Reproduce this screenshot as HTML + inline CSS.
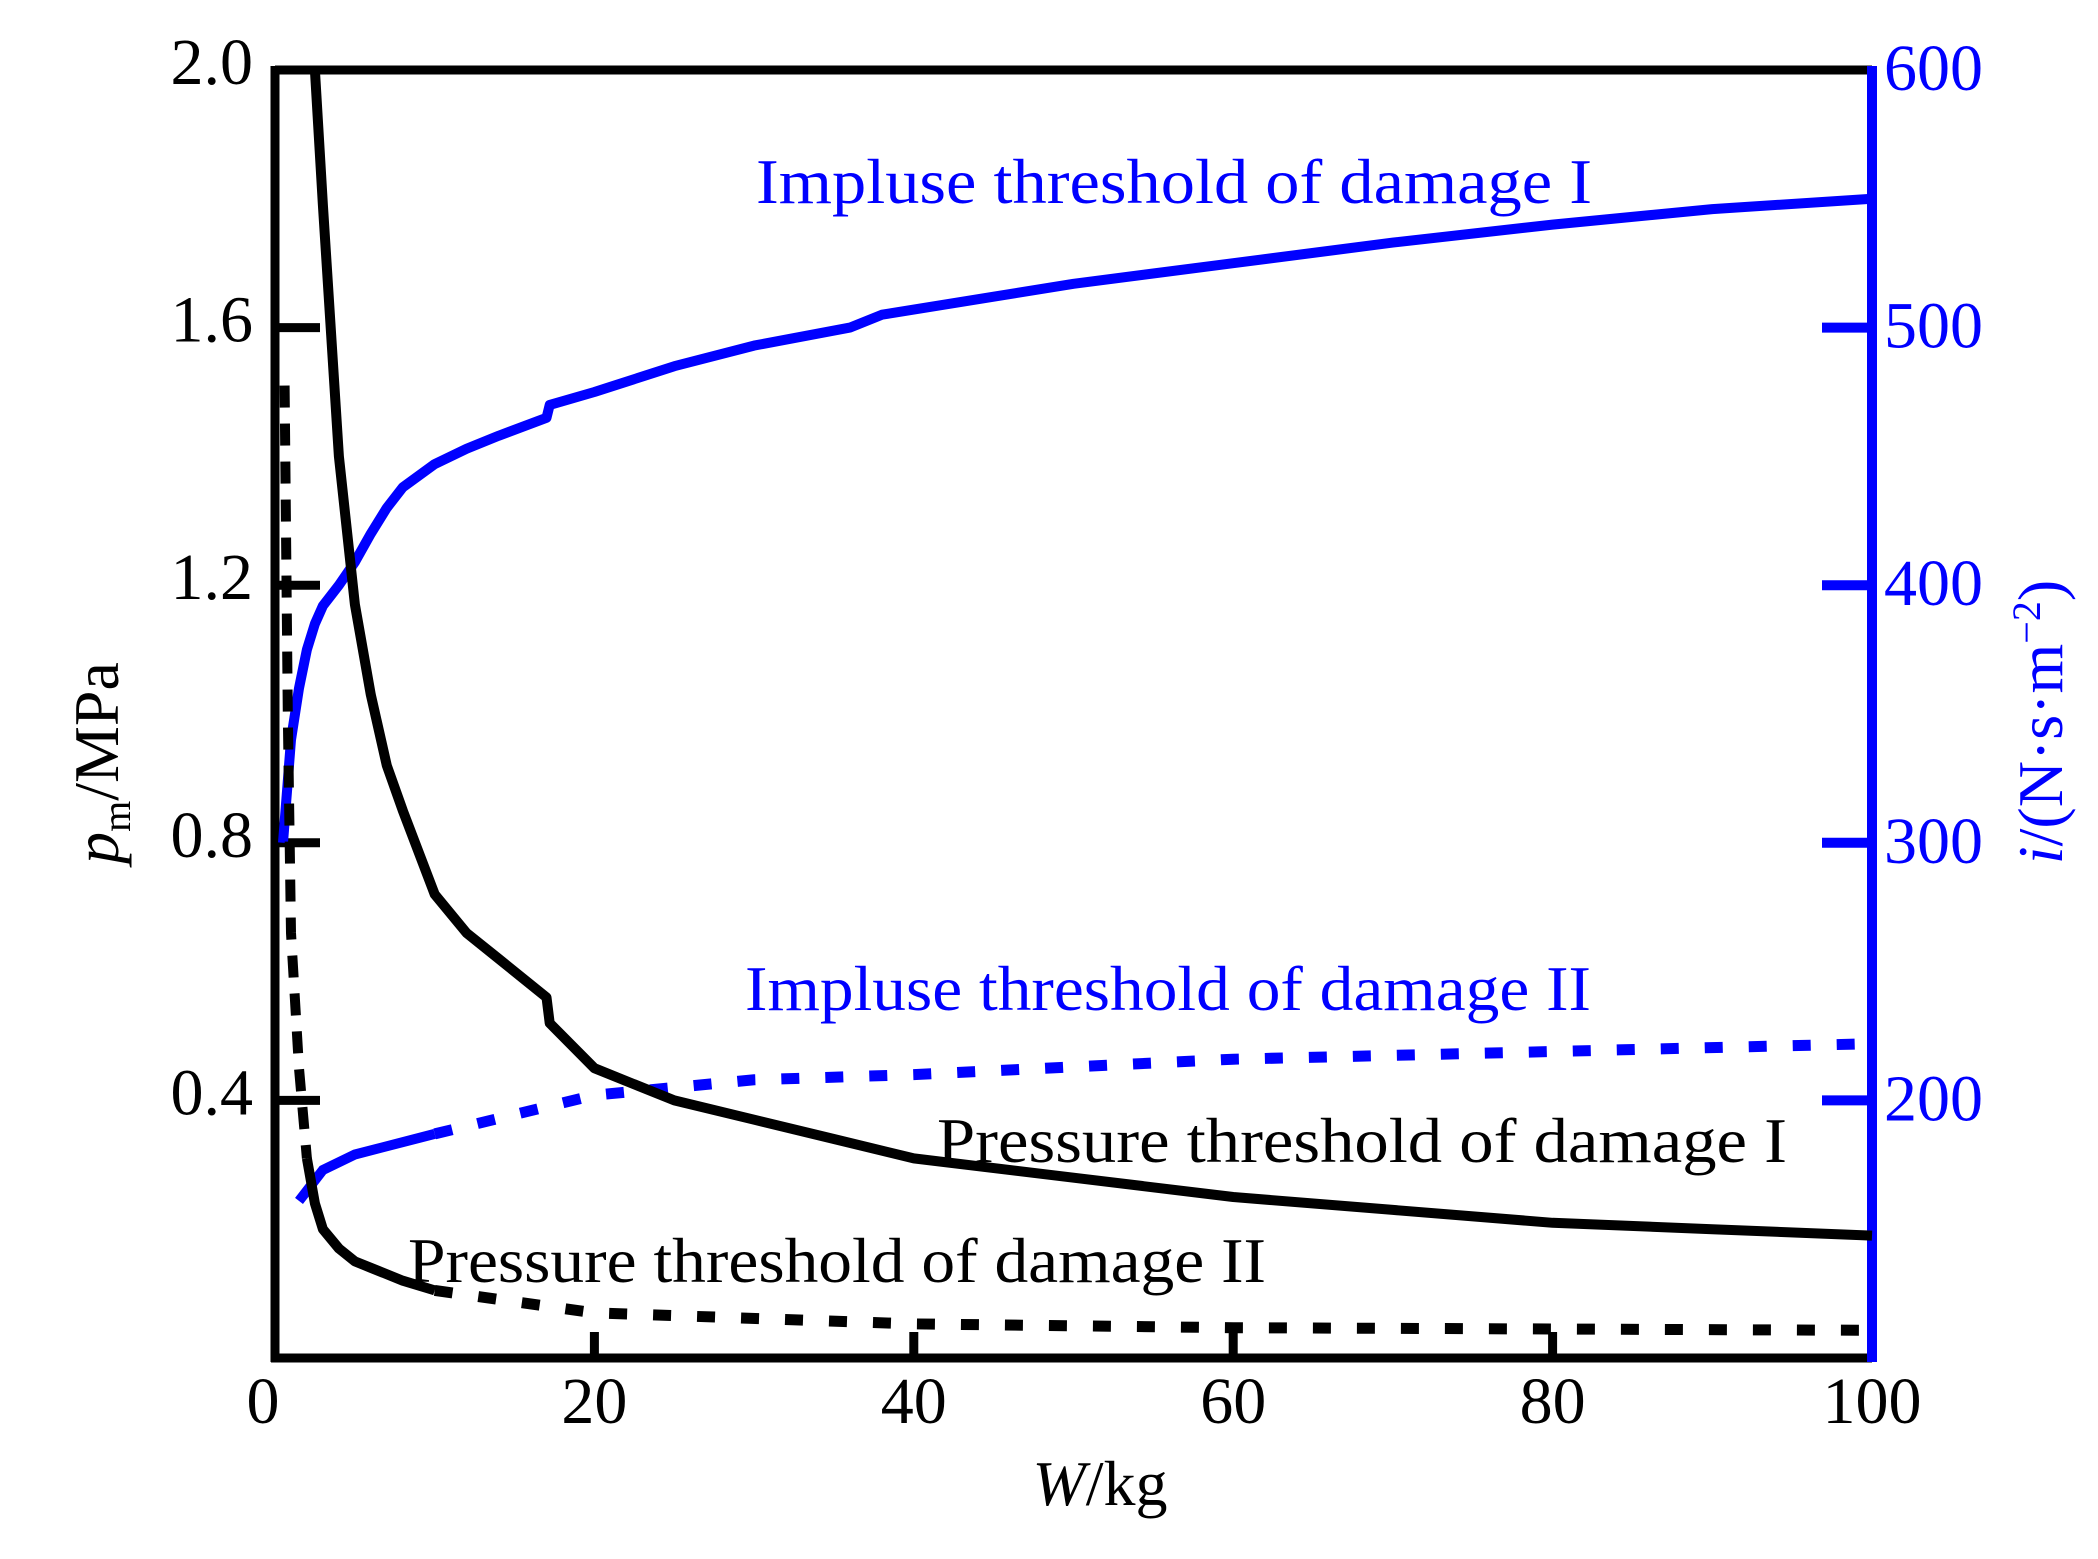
<!DOCTYPE html>
<html><head><meta charset="utf-8"><style>
html,body{margin:0;padding:0;background:#fff;}
svg{display:block;font-family:"Liberation Serif",serif;}
</style></head><body>
<svg id="chart" width="2098" height="1559" viewBox="0 0 2098 1559" xmlns="http://www.w3.org/2000/svg">
<rect x="0" y="0" width="2098" height="1559" fill="#fff"/>
<g id="plot"></g>
<text x="756" y="203" font-size="64" fill="#0000ff" textLength="836" lengthAdjust="spacingAndGlyphs">Impluse threshold of damage   I</text>
<text x="745" y="1010" font-size="64" fill="#0000ff" textLength="846" lengthAdjust="spacingAndGlyphs">Impluse threshold of damage   II</text>
<text x="937" y="1162" font-size="64" fill="#000" textLength="850" lengthAdjust="spacingAndGlyphs">Pressure threshold of damage   I</text>
<text x="408" y="1282" font-size="64" fill="#000" textLength="858" lengthAdjust="spacingAndGlyphs">Pressure threshold of damage  II</text>
<text x="1100" y="1505" font-size="64" text-anchor="middle"><tspan font-style="italic">W</tspan>/kg</text>
<text transform="translate(118,763) rotate(-90)" font-size="64" text-anchor="middle"><tspan font-style="italic">p</tspan><tspan font-size="40" dy="12">m</tspan><tspan dy="-12">/MPa</tspan></text>
<text transform="translate(2062,722) rotate(-90)" font-size="64" text-anchor="middle" fill="#0000ff"><tspan font-style="italic">i</tspan>/(N·s·m<tspan font-size="40" dy="-22">−2</tspan><tspan dy="22">)</tspan></text>
</svg>
<script>
const xTicks=[0,20,40,60,80,100];
const leftTicks=[0.4,0.8,1.2,1.6,2.0];
const leftTickLabels=["0.4","0.8","1.2","1.6","2.0"];
const rightTicks=[200,300,400,500,600];
const rightTickLabels=["200","300","400","500","600"];
const impulse1X=[0.5,1,1.5,2,2.5,3,4,5,6,7,8,10,12,14,17,17.2,20,25,30,36,38,45,50,60,70,80,90,100];
const impulse1Y=[300,340,360,375,385,392,400,409,420,430,438,447,453,458,465,470,475,485,493,500,505,512,517,525,533,540,546,550];
const impulse2X=[0.5,1.5,3,5,10,20,30,40,50,60,80,100];
const impulse2Y=[141,161,173,179,187,202,208,210,213,216,219,222];
const pressure1X=[2.5,3,4,5,6,7,8,10,12,14,17,17.2,20,25,30,35,40,50,60,70,80,90,100];
const pressure1Y=[2.0,1.79,1.40,1.17,1.03,0.92,0.85,0.72,0.66,0.62,0.56,0.52,0.45,0.40,0.37,0.34,0.31,0.28,0.25,0.23,0.21,0.20,0.19];
const pressure2X=[0.6,0.8,1,1.5,2,2.5,3,4,5,6,8,10,20,40,60,100];
const pressure2Y=[1.51,1.0,0.66,0.45,0.31,0.24,0.20,0.17,0.15,0.14,0.12,0.105,0.07,0.053,0.047,0.043];

const L=275,R=1872,T=70,B=1358;
const xs=v=>L+(v-0)/(100-0)*(R-L);
const yl=v=>B-(v-0)/(2.0-0)*(B-T);
const yr=v=>B-(v-100)/(600-100)*(B-T);
const NS="http://www.w3.org/2000/svg";
const g=document.getElementById('plot');
function mk(tag,attrs){const e=document.createElementNS(NS,tag);for(const k in attrs)e.setAttribute(k,attrs[k]);g.appendChild(e);return e;}
function pts(X,Y,ys,lo,hi){const a=[];for(let i=0;i<X.length;i++){if(X[i]>=lo&&X[i]<=hi)a.push(xs(X[i]).toFixed(1)+','+ys(Y[i]).toFixed(1));}return a.join(' ');}

let e;
e=mk('line',{x1:L,y1:T,x2:R,y2:T,stroke:'#000','stroke-width':9});


e=mk('line',{x1:L,y1:T-4,x2:L,y2:B+4,stroke:'#000','stroke-width':9});


e=mk('line',{x1:L-4,y1:B,x2:R,y2:B,stroke:'#000','stroke-width':9});


e=mk('line',{x1:R,y1:T-4,x2:R,y2:B+4,stroke:'#0000ff','stroke-width':10});



xTicks.forEach((v,i)=>{
  if(v>0&&v<100){e=mk('line',{x1:xs(v),y1:B,x2:xs(v),y2:B-26,stroke:'#000','stroke-width':9});
  
  }
  e=mk('text',{x:v===0?xs(v)-12:xs(v),y:1423,'font-size':66,'text-anchor':'middle',fill:'#000'});
  e.textContent=String(v);
  
  
});
leftTicks.forEach((v,i)=>{
  e=mk('line',{x1:L,y1:yl(v),x2:L+45,y2:yl(v),stroke:'#000','stroke-width':9});
  
  
  e=mk('text',{x:253,y:yl(v)+14,'font-size':66,'text-anchor':'end',fill:'#000'});
  e.textContent=leftTickLabels[i];
  
  
});
rightTicks.forEach((v,i)=>{
  if(v<600){e=mk('line',{x1:R,y1:yr(v),x2:R-50,y2:yr(v),stroke:'#0000ff','stroke-width':10});
  
  }
  e=mk('text',{x:1884,y:yr(v)+20,'font-size':66,fill:'#0000ff'});
  e.textContent=rightTickLabels[i];
  
  
});

e=mk('polyline',{points:pts(impulse1X,impulse1Y,yr,0,100),fill:'none',stroke:'#0000ff','stroke-width':10,'stroke-linejoin':'round'});


e=mk('polyline',{points:pts(impulse2X,impulse2Y,yr,1.5,10),fill:'none',stroke:'#0000ff','stroke-width':10});


e=mk('polyline',{points:pts(impulse2X,impulse2Y,yr,10,100),fill:'none',stroke:'#0000ff','stroke-width':11,'stroke-dasharray':'18 26'});


e=mk('polyline',{points:pts(impulse2X,impulse2Y,yr,0,0.6),fill:'none',stroke:'#0000ff','stroke-width':10});


e=mk('polyline',{points:pts(pressure1X,pressure1Y,yl,0,100),fill:'none',stroke:'#000','stroke-width':10,'stroke-linejoin':'round'});


e=mk('polyline',{points:pts(pressure2X,pressure2Y,yl,0,2),fill:'none',stroke:'#000','stroke-width':10,'stroke-dasharray':'22 16'});


e=mk('polyline',{points:pts(pressure2X,pressure2Y,yl,2,10),fill:'none',stroke:'#000','stroke-width':10,'stroke-linejoin':'round'});


e=mk('polyline',{points:pts(pressure2X,pressure2Y,yl,10,100),fill:'none',stroke:'#000','stroke-width':11,'stroke-dasharray':'18 26'});


</script>
</body></html>
